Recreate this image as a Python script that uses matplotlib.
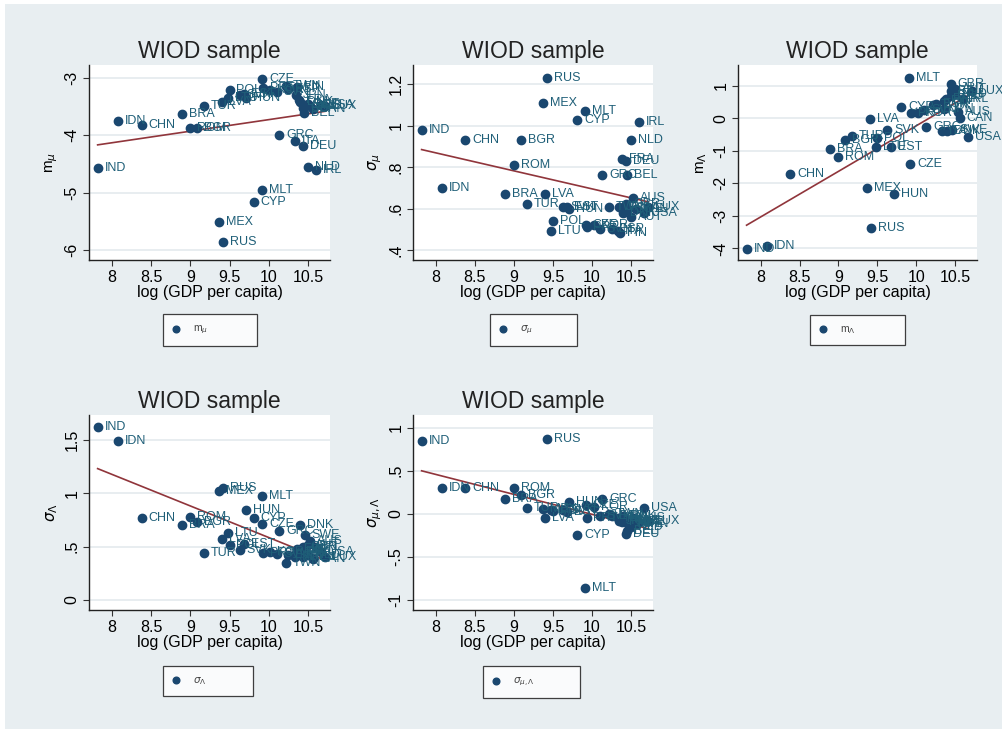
import numpy as np
import matplotlib
matplotlib.use("Agg")
import matplotlib.pyplot as plt
from matplotlib.patches import Rectangle

plt.rcParams["font.family"] = ["Liberation Sans", "DejaVu Sans"]
plt.rcParams["mathtext.fontset"] = "dejavusans"

# country codes and log GDP per capita
countries = ["IND", "IDN", "CHN", "BRA", "ROM", "BGR", "TUR", "MEX", "LVA", "RUS",
             "LTU", "POL", "SVK", "EST", "HUN", "CYP", "MLT", "CZE", "PRT", "KOR",
             "SVN", "GRC", "TWN", "ESP", "ITA", "JPN", "FIN", "FRA", "DNK", "GBR",
             "DEU", "SWE", "BEL", "AUT", "NLD", "AUS", "CAN", "IRL", "USA", "LUX"]
log_gdp = [7.82, 8.08, 8.38, 8.89, 9.00, 9.09, 9.17, 9.37, 9.40, 9.42,
           9.48, 9.50, 9.63, 9.68, 9.71, 9.81, 9.91, 9.92, 9.93, 10.02,
           10.10, 10.13, 10.22, 10.25, 10.33, 10.35, 10.36, 10.38, 10.40, 10.44,
           10.44, 10.46, 10.45, 10.50, 10.50, 10.53, 10.56, 10.60, 10.66, 10.72]

m_mu = [-4.57, -3.75, -3.82, -3.64, -3.88, -3.88, -3.49, -5.51, -3.42, -5.86,
        -3.35, -3.22, -3.30, -3.28, -3.35, -5.17, -4.96, -3.03, -3.18, -3.22,
        -3.25, -4.00, -3.15, -3.20, -4.10, -3.30, -3.17, -3.38, -3.42, -3.52,
        -4.18, -3.48, -3.62, -3.45, -4.55, -3.50, -3.55, -4.61, -3.47, -3.50]

sigma_mu = [0.98, 0.70, 0.93, 0.67, 0.81, 0.93, 0.62, 1.11, 0.67, 1.23,
            0.49, 0.54, 0.61, 0.61, 0.60, 1.03, 1.07, 0.52, 0.51, 0.52,
            0.50, 0.76, 0.61, 0.50, 0.49, 0.61, 0.48, 0.84, 0.58, 0.62,
            0.83, 0.60, 0.76, 0.56, 0.93, 0.65, 0.60, 1.02, 0.58, 0.61]

m_lambda = [-4.03, -3.93, -1.72, -0.95, -1.18, -0.66, -0.54, -2.15, -0.03, -3.38,
            -0.87, -0.61, -0.36, -0.89, -2.33, 0.36, 1.26, -1.41, 0.16, 0.16,
            0.25, -0.27, 0.40, 0.45, -0.38, 0.30, 0.55, 0.60, -0.40, 1.06,
            0.70, -0.36, 0.85, 0.90, 0.75, 0.20, 0.00, 0.60, -0.56, 0.85]

sigma_lambda = [1.625, 1.49, 0.765, 0.70, 0.775, 0.73, 0.44, 1.02, 0.57, 1.05,
                0.63, 0.52, 0.47, 0.525, 0.84, 0.77, 0.975, 0.71, 0.44, 0.45,
                0.43, 0.65, 0.35, 0.42, 0.40, 0.44, 0.48, 0.45, 0.70, 0.50,
                0.40, 0.61, 0.47, 0.52, 0.42, 0.55, 0.38, 0.50, 0.45, 0.40]

sigma_mu_lambda = [0.845, 0.296, 0.296, 0.17, 0.296, 0.22, 0.065, 0.06, -0.05, 0.865,
                   0.05, 0.03, 0.05, 0.02, 0.14, -0.245, -0.865, 0.10, -0.05, 0.08,
                   -0.03, 0.17, 0.00, -0.02, -0.05, -0.08, -0.06, -0.10, -0.02, -0.08,
                   -0.23, -0.12, -0.20, -0.10, -0.15, -0.05, -0.12, -0.10, 0.07, -0.08]

MARKER = "#1a476f"
LABEL = "#1f5f78"
FIT = "#90353b"
BG = "#e8eef1"
GRID = "#e4eaee"

W, H = 1002, 729
fig = plt.figure(figsize=(W / 100, H / 100), dpi=100, facecolor="white")
fig.patches.append(Rectangle((5 / W, 0), 1, (H - 4) / H, transform=fig.transFigure,
                             facecolor=BG, edgecolor="none", zorder=-10))

# (values, ylabel, yticks, yticklabels, ylim, axes box px, legend box px)
panels = [
    (m_mu, r"m$_\mu$", [-6, -5, -4, -3], ["-6", "-5", "-4", "-3"], (-6.17, -2.78),
     (89, 65, 330, 260), (163, 313, 257, 347)),
    (sigma_mu, r"$\sigma_\mu$", [0.4, 0.6, 0.8, 1.0, 1.2], [".4", ".6", ".8", "1", "1.2"],
     (0.352, 1.293), (413, 65, 653, 260), (490, 313, 577, 347)),
    (m_lambda, r"m$_\Lambda$", [-4, -3, -2, -1, 0, 1], ["-4", "-3", "-2", "-1", "0", "1"],
     (-4.36, 1.647), (738, 65, 977, 260), (810, 313, 905, 347)),
    (sigma_lambda, r"$\sigma_\Lambda$", [0, 0.5, 1.0, 1.5], ["0", ".5", "1", "1.5"],
     (-0.094, 1.734), (89, 415, 330, 610), (163, 665, 253, 697)),
    (sigma_mu_lambda, r"$\sigma_{\mu,\Lambda}$", [-1, -0.5, 0, 0.5, 1],
     ["-1", "-.5", "0", ".5", "1"], (-1.116, 1.147), (413, 415, 653, 610),
     (483, 665, 580, 699)),
]

x = np.array(log_gdp)
for vals, ylab, yt, ytl, ylim, box, lbox in panels:
    l, t, r, b = box
    ax = fig.add_axes([l / W, 1 - b / H, (r - l) / W, (b - t) / H])
    ax.set_facecolor("white")
    y = np.array(vals)

    sc = ax.scatter(x, y, s=36, color=MARKER, zorder=3, label=ylab, clip_on=False)
    for cx, cy, name in zip(x, y, countries):
        ax.annotate(name, (cx, cy), xytext=(5, 0), textcoords="offset points",
                    va="center", ha="left", fontsize=9, color=LABEL,
                    annotation_clip=False, zorder=4)

    # linear fit over the observed range
    slope, icpt = np.polyfit(x, y, 1)
    xf = np.array([x.min(), x.max()])
    ax.plot(xf, icpt + slope * xf, color=FIT, lw=1.2, zorder=2)

    ax.set_xlim(7.71, 10.78)
    ax.set_ylim(*ylim)
    ax.set_xticks([8, 8.5, 9, 9.5, 10, 10.5])
    ax.set_xticklabels(["8", "8.5", "9", "9.5", "10", "10.5"])
    ax.set_yticks(yt)
    ax.set_yticklabels(ytl, rotation=90, va="center")
    ax.tick_params(labelsize=11.5, length=4, color="#333333", pad=3)
    ax.grid(axis="y", color=GRID, lw=1.2)
    ax.set_axisbelow(True)
    for s in ("top", "right"):
        ax.spines[s].set_visible(False)
    for s in ("left", "bottom"):
        ax.spines[s].set_color("#222222")
        ax.spines[s].set_linewidth(1.0)
    ax.set_xlabel("log (GDP per capita)", fontsize=11.5, labelpad=0)
    ax.set_ylabel(ylab, fontsize=11, labelpad=3)
    ax.set_title("WIOD sample", fontsize=16.5, pad=5, color="#222222")

    bl, bt, br, bb = lbox
    leg = ax.legend(handles=[sc], labels=[ylab], loc="center", mode="expand",
                    bbox_to_anchor=(bl / W, 1 - bb / H, (br - bl) / W, (bb - bt) / H),
                    bbox_transform=fig.transFigure, borderaxespad=0, fontsize=7.5,
                    frameon=True, fancybox=False, borderpad=0.9, handletextpad=1.4,
                    handlelength=0.6, markerscale=0.8, labelcolor="#444444")
    leg.get_frame().set_edgecolor("#111111")
    leg.get_frame().set_linewidth(0.9)
    leg.get_frame().set_facecolor("white")

fig.savefig("out.png", dpi=100, facecolor=fig.get_facecolor())
